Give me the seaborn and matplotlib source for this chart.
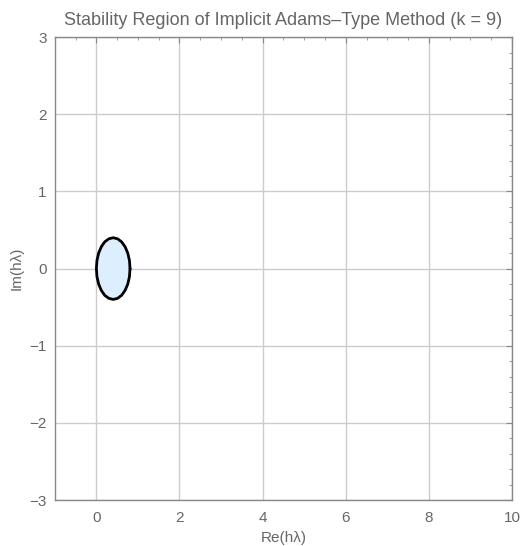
import numpy as np
import pandas as pd
import seaborn as sns
import matplotlib.pyplot as plt
from matplotlib.ticker import MultipleLocator

# Boundary of the stability region
re_vals = [0.81, 0.796, 0.756, 0.691, 0.608, 0.510, 0.405, 0.300, 0.200, 0.119, 0.054, 0.014, 0.0,
           0.014, 0.054, 0.119, 0.200, 0.300, 0.405, 0.510, 0.608, 0.691, 0.756, 0.796, 0.81]
im_vals = [0.0, 0.104, 0.200, 0.283, 0.346, 0.386, 0.400, 0.386, 0.346, 0.283, 0.200, 0.104, 0.0,
           -0.104, -0.200, -0.283, -0.346, -0.386, -0.400, -0.386, -0.346, -0.283, -0.200, -0.104, 0.0]
x_ticks = [0, 2, 4, 6, 8, 10]
y_ticks = [-3, -2, -1, 0, 1, 2, 3]

df = pd.DataFrame({"re": re_vals, "im": im_vals})

sns.set_style("white")
plt.rcParams['font.family'] = ['Liberation Sans', 'DejaVu Sans']
fig = plt.figure(figsize=(5.27, 5.46), dpi=100)
ax = fig.add_axes([0.104, 0.0842, 0.8675, 0.8478])

gray = "#666666"
ax.set_xlim(-1, 10)
ax.set_ylim(-3, 3)
ax.set_xticks(x_ticks)
ax.set_yticks(y_ticks)
ax.set_yticklabels(["\u22123", "\u22122", "\u22121", "0", "1", "2", "3"])
ax.xaxis.set_minor_locator(MultipleLocator(0.5))
ax.yaxis.set_minor_locator(MultipleLocator(0.2))
ax.grid(True, which="major", color="#cccccc", linewidth=1.0, zorder=0)
ax.set_axisbelow(True)

ax.fill(df["re"], df["im"], color="#ddeeff", zorder=2)
sns.lineplot(data=df, x="re", y="im", sort=False, estimator=None, color="black",
             linewidth=2.0, ax=ax, zorder=3)
ax.set_xlabel("")
ax.set_ylabel("")

for s in ax.spines.values():
    s.set_color("#888888")
    s.set_linewidth(1.0)
ax.tick_params(which="both", direction="in", top=True, right=True, colors="#888888",
               labelcolor=gray, labelsize=11)
ax.tick_params(which="major", length=4, width=0.8)
ax.tick_params(which="minor", length=2.5, width=0.6)
ax.tick_params(axis="x", which="major", pad=8)
ax.tick_params(axis="y", which="major", pad=6)

ax.set_xlabel("Re(h\u03bb)", color=gray, fontsize=11, labelpad=4)
ax.set_ylabel("Im(h\u03bb)", color=gray, fontsize=11)
ax.set_title("Stability Region of Implicit Adams\u2013Type Method (k = 9)", color=gray, fontsize=13, pad=9)

fig.savefig("out.png", dpi=100)
